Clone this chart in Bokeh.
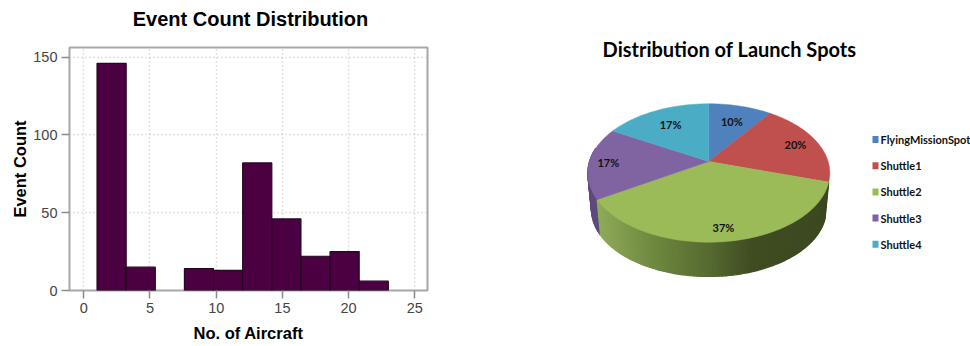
import math

from bokeh.core.properties import value
from bokeh.embed import file_html
from bokeh.layouts import column, row
from bokeh.models import ColumnDataSource, FixedTicker, Range1d
from bokeh.plotting import figure
from bokeh.resources import INLINE

# Histogram of events per aircraft count
bin_edges = [1.0, 3.2, 5.4, 7.6, 9.8, 12.0, 14.2, 16.4, 18.6, 20.8, 23.0]
event_counts = [146, 15, 0, 14, 13, 82, 46, 22, 25, 6]
x_ticks = [0, 5, 10, 15, 20, 25]
y_ticks = [0, 50, 100, 150]

# Launch spot shares
spot_names = ["FlyingMissionSpot", "Shuttle1", "Shuttle2", "Shuttle3", "Shuttle4"]
spot_shares = [10, 20, 37, 17, 17]
spot_colors = ["#4f81bd", "#c0504d", "#9bbb59", "#8064a2", "#4bacc6"]

# Distance of each percentage label from the pie centre, as a fraction of the radius
label_radius = [0.70, 0.80, 0.85, 0.84, 0.70]

GREY = "#a8a8a8"
TICK_TEXT = "#454545"

# ---- heading strip over the histogram ----
heading = figure(
    width=500, height=45, output_backend="svg", toolbar_location=None,
    x_range=Range1d(0, 500), y_range=Range1d(45, 0),
    min_border=0, outline_line_color=None, x_axis_location=None, y_axis_location=None,
)
heading.frame_align = False
heading.grid.visible = False
heading.text(
    x=[250], y=[18], text=["Event Count Distribution"],
    text_align="center", text_baseline="middle",
    text_font=value("Liberation Sans"), text_font_style="bold", text_font_size="20px", text_color="#000000",
)

# ---- histogram ----
hist = figure(
    width=500, height=301, output_backend="svg", toolbar_location=None,
    x_range=Range1d(-1.08, 25.96), y_range=Range1d(0, 156.2),
    min_border_left=69, min_border_right=73, min_border_top=2, min_border_bottom=56,
    x_axis_label="No. of Aircraft", y_axis_label="Event Count",
)
hist.frame_align = False
hist.outline_line_color = GREY
hist.outline_line_width = 2

for axis, ticks in ((hist.xaxis[0], x_ticks), (hist.yaxis[0], y_ticks)):
    axis.ticker = FixedTicker(ticks=ticks)
    axis.axis_line_color = None
    axis.major_tick_line_color = "#8c8c8c"
    axis.major_tick_line_width = 1.5
    axis.major_tick_in = 0
    axis.major_tick_out = 8
    axis.minor_tick_line_color = None
    axis.major_label_text_font = "Liberation Sans"
    axis.major_label_text_font_size = "14.5px"
    axis.major_label_text_color = TICK_TEXT
    axis.major_label_standoff = 4
    axis.axis_label_text_font = "Liberation Sans"
    axis.axis_label_text_font_size = "16.5px"
    axis.axis_label_text_font_style = "bold"
    axis.axis_label_text_color = "#000000"
hist.xaxis[0].axis_label_standoff = 8
hist.yaxis[0].axis_label_standoff = 1
hist.yaxis[0].major_label_orientation = "horizontal"

hist.grid.grid_line_color = "#c4c4c4"
hist.grid.grid_line_dash = "1 3"
hist.grid.grid_line_width = 1.5

filled = [i for i, c in enumerate(event_counts) if c > 0]
hist.quad(
    left=[bin_edges[i] for i in filled],
    right=[bin_edges[i + 1] for i in filled],
    top=[event_counts[i] for i in filled],
    bottom=0,
    fill_color="#4b0042", line_color="#23081f", line_width=1.2,
)

# ---- 3-D pie, in a pixel-like coordinate space ----
pie = figure(
    width=470, height=346, output_backend="svg", toolbar_location=None,
    x_range=Range1d(500, 970), y_range=Range1d(346, 0),
    min_border=0, outline_line_color=None, x_axis_location=None, y_axis_location=None,
)
pie.frame_align = False
pie.grid.visible = False

APEX_X, APEX_Y = 708.3, 161.0
SCALE_X, SCALE_Y, TILT = 119.3, 67.3, 0.1663
WALL_DROP, WALL_SHRINK = 36.7, 0.97


def rim(angle_deg, radius=1.0, drop=0.0, shrink=1.0):
    """Project a point of the pie disc (angle clockwise from 12 o'clock) to the page."""
    a = math.radians(angle_deg)
    dx, dy = radius * math.sin(a), radius * math.cos(a)
    w = 1 + TILT * dy
    return (APEX_X + shrink * SCALE_X * dx / w, APEX_Y + drop - shrink * SCALE_Y * dy / w)


def steps(a0, a1, step=1.0):
    n = max(1, int(round(abs(a1 - a0) / step)))
    return [a0 + (a1 - a0) * i / n for i in range(n + 1)]


total = sum(spot_shares)
bounds = [0.0]
for share in spot_shares:
    bounds.append(bounds[-1] + 360.0 * share / total)

# Shading of the front wall, running left to right across the green slice
shade_stops = [(597, (143, 171, 88)), (650, (112, 138, 64)), (708, (86, 106, 48)),
               (750, (63, 77, 34)), (830, (60, 72, 32))]


def shade(x):
    for (x0, c0), (x1, c1) in zip(shade_stops, shade_stops[1:]):
        if x <= x1:
            t = max(0.0, (x - x0) / (x1 - x0))
            return "#%02x%02x%02x" % tuple(round(a + (b - a) * t) for a, b in zip(c0, c1))
    return "#%02x%02x%02x" % shade_stops[-1][1]


wall_x, wall_y, wall_color = [], [], []


def add_wall(a0, a1, color_for):
    angles = steps(a0, a1, 1.5)
    for s, e in zip(angles, angles[1:]):
        p1, p2 = rim(s), rim(e)
        p3 = rim(e, drop=WALL_DROP, shrink=WALL_SHRINK)
        p4 = rim(s, drop=WALL_DROP, shrink=WALL_SHRINK)
        wall_x.append([p1[0], p2[0], p3[0], p4[0]])
        wall_y.append([p1[1], p2[1], p3[1], p4[1]])
        wall_color.append(color_for((p1[0] + p2[0] + p3[0] + p4[0]) / 4))


add_wall(bounds[3], 282, lambda x: "#5d4a7e")
add_wall(bounds[2], bounds[3], shade)
pie.patches(wall_x, wall_y, fill_color=wall_color, line_color=wall_color, line_width=1.2)

# Top surface of the pie
top_x, top_y = [], []
for a0, a1 in zip(bounds, bounds[1:]):
    edge = [rim(a) for a in steps(a0, a1)]
    top_x.append([APEX_X] + [p[0] for p in edge])
    top_y.append([APEX_Y] + [p[1] for p in edge])
pie.patches(top_x, top_y, fill_color=spot_colors, line_color=spot_colors, line_width=0.5)

# Percentage labels on the slices
mids = [(a0 + a1) / 2 for a0, a1 in zip(bounds, bounds[1:])]
label_pts = [rim(m, r) for m, r in zip(mids, label_radius)]
pie.text(
    x=[p[0] for p in label_pts], y=[p[1] for p in label_pts],
    text=[f"{s}%" for s in spot_shares],
    text_align="center", text_baseline="middle",
    text_font=value("Lato"), text_font_style="bold", text_font_size="11px", text_color="#111111",
)

# Chart title
pie.text(
    x=[729], y=[48], text=["Distribution of Launch Spots"],
    text_align="center", text_baseline="middle",
    text_font=value("Lato"), text_font_style="bold", text_font_size="20px", text_color="#000000",
)

# Legend
legend_y = [139 + 26.2 * i for i in range(len(spot_names))]
legend = ColumnDataSource(dict(name=spot_names, y=legend_y, color=spot_colors,
                               x_box=[875] * len(spot_names), x_text=[880] * len(spot_names)))
pie.rect(x="x_box", y="y", width=6, height=7, fill_color="color", line_color=None, source=legend)
pie.text(
    x="x_text", y="y", text="name", source=legend,
    text_align="left", text_baseline="middle",
    text_font=value("Lato"), text_font_style="bold", text_font_size="11px", text_color="#111111",
)

left_side = column(heading, hist, spacing=0)
open("out.html", "w").write(file_html(row(left_side, pie, spacing=0), INLINE))
